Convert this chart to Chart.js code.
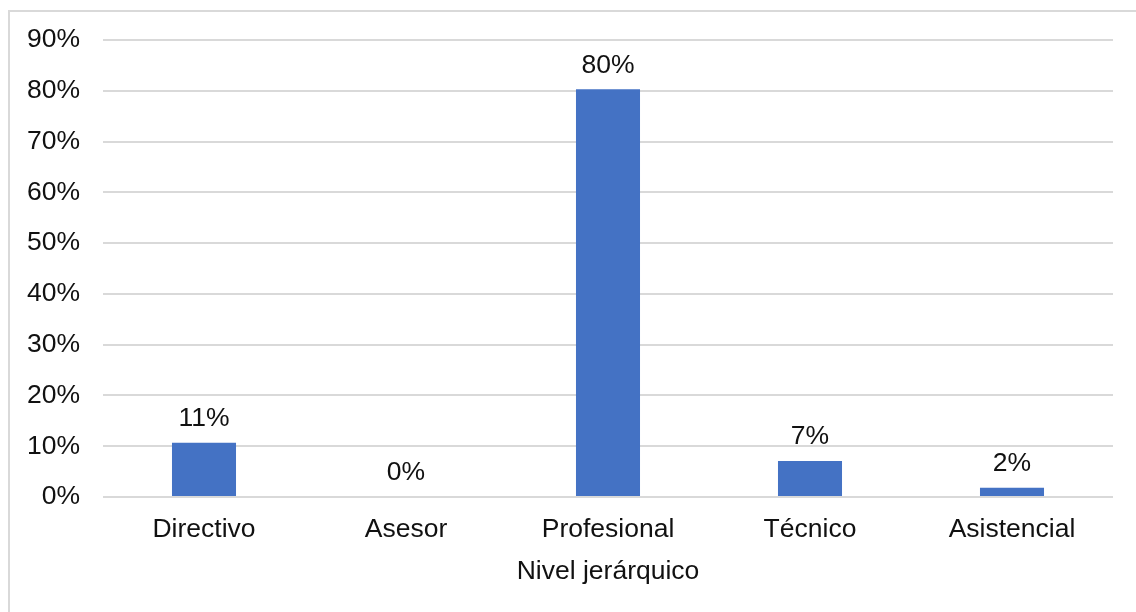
<!DOCTYPE html>
<html>
<head>
<meta charset="utf-8">
<script src="https://cdn.jsdelivr.net/npm/chart.js@4"></script>
<style>
    html, body { margin: 0; padding: 0; background: #fff; }
    #wrap { width: 1136px; height: 612px; position: relative; }
</style>
</head>
<body>
<div id="wrap"><canvas id="nivelChart" width="1136" height="612"></canvas></div>
<script>
const categories = ['Directivo', 'Asesor', 'Profesional', 'Técnico', 'Asistencial'];
const shares = [0.107, 0, 0.803, 0.071, 0.018];
const yTicks = [0, 0.1, 0.2, 0.3, 0.4, 0.5, 0.6, 0.7, 0.8, 0.9];

const FONT = 'Liberation Sans, Arial, sans-serif';
const FONT_SIZE = 26.5;
const pct = v => Math.round(v * 100) + '%';

// outer frame round the chart
const framePlugin = {
    id: 'frame',
    beforeDraw(chart) {
        const ctx = chart.ctx;
        ctx.save();
        ctx.fillStyle = '#fff';
        ctx.fillRect(0, 0, chart.width, chart.height);
        ctx.strokeStyle = '#d9d9d9';
        ctx.lineWidth = 2;
        ctx.strokeRect(9, 11, chart.width + 20, chart.height + 20);
        ctx.restore();
    }
};

// percentage written above each bar
const valueLabels = {
    id: 'valueLabels',
    afterDatasetsDraw(chart) {
        const ctx = chart.ctx;
        const meta = chart.getDatasetMeta(0);
        ctx.save();
        ctx.font = FONT_SIZE + 'px ' + FONT;
        ctx.fillStyle = '#111';
        ctx.textAlign = 'center';
        ctx.textBaseline = 'middle';
        meta.data.forEach((bar, i) => {
            ctx.fillText(pct(shares[i]), bar.x, bar.y - 24);
        });
        ctx.restore();
    }
};

const ctx = document.getElementById('nivelChart').getContext('2d');
new Chart(ctx, {
    type: 'bar',
    data: {
        labels: categories,
        datasets: [{
            data: shares,
            backgroundColor: '#4472C4',
            barPercentage: 0.317,
            categoryPercentage: 1
        }]
    },
    options: {
        responsive: false,
        animation: false,
        layout: { padding: { top: 40, right: 23, bottom: 24, left: 0 } },
        plugins: {
            legend: { display: false },
            tooltip: { enabled: false }
        },
        scales: {
            x: {
                afterFit(scale) { scale.height = 91; },
                grid: { display: false, drawTicks: false },
                border: { display: false },
                ticks: { color: '#111', font: { family: FONT, size: FONT_SIZE }, padding: 17 },
                title: {
                    display: true,
                    text: 'Nivel jerárquico',
                    color: '#111',
                    font: { family: FONT, size: FONT_SIZE },
                    padding: { top: 0, bottom: 0 }
                }
            },
            y: {
                min: 0,
                max: 0.9,
                afterFit(scale) { scale.width = 103; },
                afterBuildTicks(scale) { scale.ticks = yTicks.map(v => ({ value: v })); },
                grid: { color: '#d9d9d9', lineWidth: 2, drawTicks: false },
                border: { display: false },
                ticks: {
                    color: '#111',
                    font: { family: FONT, size: FONT_SIZE },
                    padding: 23,
                    callback: v => pct(v)
                }
            }
        }
    },
    plugins: [framePlugin, valueLabels]
});
</script>
</body>
</html>
